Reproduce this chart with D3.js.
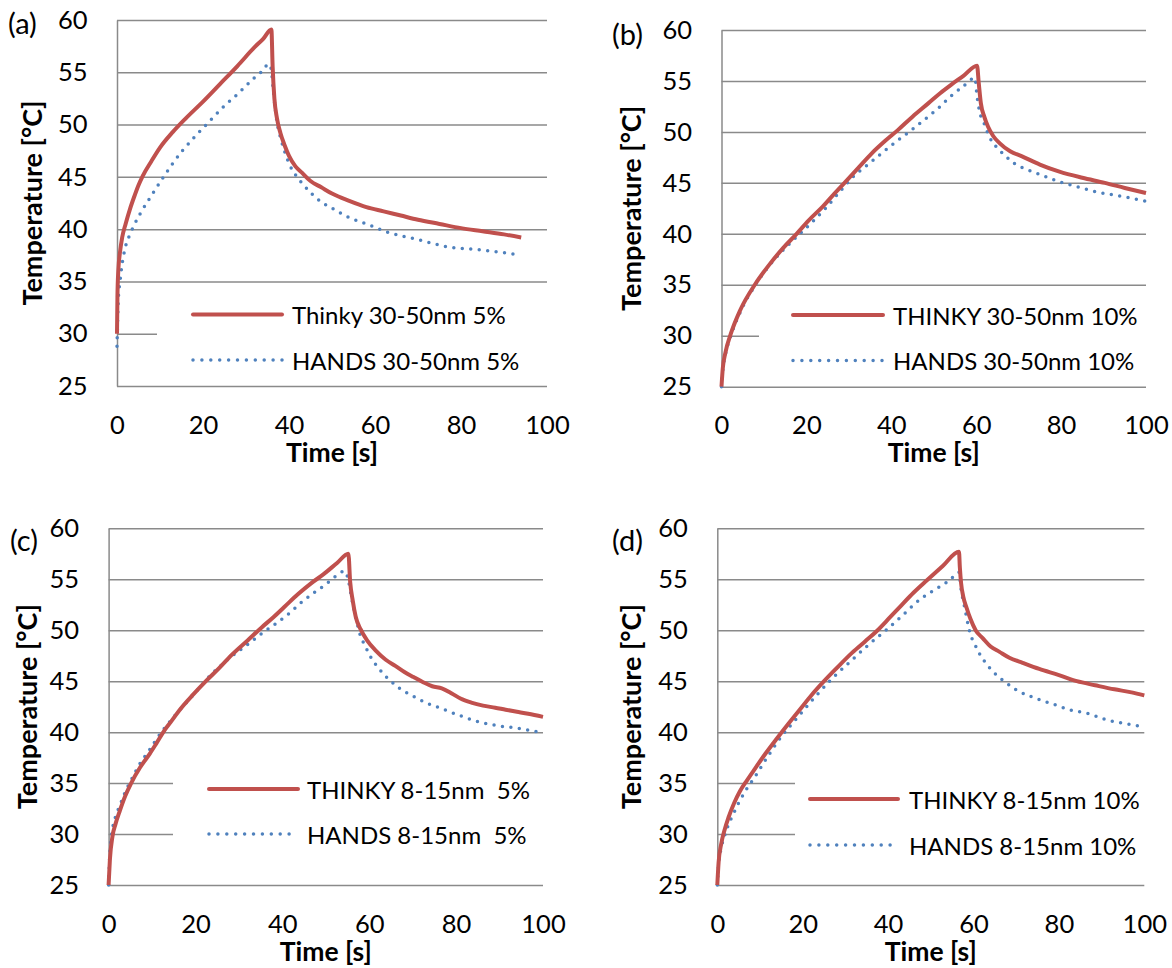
<!DOCTYPE html>
<html>
<head>
<meta charset="utf-8">
<script src="https://cdn.jsdelivr.net/npm/d3@7"></script>
<style>
  body { margin: 0; background: #fff; }
  text { font-family: Lato, "Open Sans", sans-serif; fill: #000; }
</style>
</head>
<body>
<script>
// axis ticks shared by all four panels
const xTicks = [0, 20, 40, 60, 80, 100]
const yTicks = [25, 30, 35, 40, 45, 50, 55, 60]

// (a) 30-50nm 5%
const timeA1 = [0, 0.1, 0.3, 0.7, 1.2, 2, 3, 4, 5, 6, 8, 10, 13, 16, 20, 24, 28, 32, 34, 35.9, 36.2, 36.6, 37.2, 38, 39, 40, 41.5, 43, 45, 47.5, 50, 54, 58, 62, 66, 70, 75, 80, 85, 90, 94]
const tempA1 = [30, 33.5, 36, 37.8, 39.2, 40.5, 41.9, 43.1, 44.2, 45.1, 46.5, 47.8, 49.3, 50.6, 52.2, 53.9, 55.6, 57.4, 58.2, 59.1, 55.5, 52.5, 50.6, 49.2, 48.0, 47.0, 46.0, 45.4, 44.6, 44.0, 43.4, 42.7, 42.1, 41.7, 41.3, 40.9, 40.5, 40.1, 39.8, 39.5, 39.2]
const timeA2 = [0, 0.3, 0.7, 1.1, 1.9, 3, 4, 6, 8, 11, 15, 18, 21, 25, 28, 32, 34, 35.2, 35.8, 36.3, 36.8, 37.3, 38, 39, 40.2, 41.5, 43, 45, 47.5, 50, 54, 58, 63, 70, 77, 85, 94]
const tempA2 = [28.8, 33.2, 35.0, 36.4, 38.2, 39.5, 40.4, 41.9, 43.2, 45.1, 47.4, 48.8, 50.1, 51.8, 52.9, 54.5, 55.2, 55.8, 55.4, 53.5, 51.5, 50.0, 48.8, 47.4, 46.1, 45.2, 44.4, 43.5, 42.6, 42.0, 41.1, 40.5, 39.7, 39.0, 38.3, 38.0, 37.5]

// (b) 30-50nm 10%
const timeB1 = [0, 0.3, 0.9, 2.2, 4.4, 8, 11.5, 14.5, 17.7, 20.5, 23.9, 26.5, 29.2, 32.5, 35.4, 38.5, 41.6, 45, 48.7, 51.5, 54, 57, 60.2, 60.6, 61.1, 61.9, 62.8, 64, 65.5, 68, 70.8, 75, 79.6, 85, 90.3, 95, 100]
const tempB1 = [25, 26.8, 28.3, 30.2, 32.5, 35.1, 37.1, 38.6, 40.0, 41.3, 42.7, 43.9, 45.1, 46.6, 47.9, 49.1, 50.2, 51.5, 52.8, 53.8, 54.6, 55.5, 56.5, 54.8, 52.8, 51.5, 50.5, 49.6, 48.9, 48.1, 47.6, 46.8, 46.1, 45.5, 45.0, 44.5, 44.0]
const timeB2 = [0, 0.3, 0.9, 2.2, 4.4, 8, 11.5, 14.5, 17.7, 21, 24.5, 28, 31, 34.5, 38, 41, 44.2, 47.5, 51, 54, 57, 59.7, 60.2, 60.8, 61.9, 63, 64.6, 66.5, 69, 72, 75.2, 79.6, 84, 88.5, 94, 100]
const tempB2 = [25, 26.6, 28.1, 30.0, 32.3, 35.0, 37.0, 38.4, 39.7, 41.0, 42.5, 44.2, 45.6, 46.8, 48.0, 49.0, 50.0, 51.1, 52.3, 53.5, 54.5, 55.3, 53.5, 52.0, 50.8, 49.6, 48.6, 47.8, 46.9, 46.3, 45.8, 45.1, 44.6, 44.1, 43.7, 43.2]

// (c) 8-15nm 5%
const timeC1 = [0, 0.3, 0.9, 1.6, 2.6, 3.8, 5.2, 7.2, 9.5, 11, 12.9, 14.5, 16.4, 19.5, 22.4, 25.5, 28.4, 32, 35.3, 38, 40.5, 43.5, 46.6, 49.5, 52.6, 55.2, 55.6, 56.2, 56.9, 58, 59.5, 61.5, 63.8, 66, 68.1, 70.2, 72.4, 74.5, 76.7, 79, 81, 83.5, 86.2, 89, 91.4, 94, 96.6, 100]
const tempC1 = [25, 27.5, 29.8, 31.0, 32.3, 33.7, 35.0, 36.5, 37.9, 38.9, 40.2, 41.1, 42.2, 43.7, 45.0, 46.3, 47.6, 49.0, 50.3, 51.3, 52.3, 53.5, 54.6, 55.5, 56.6, 57.5, 54.8, 52.9, 51.3, 50.1, 49.0, 48.0, 47.1, 46.5, 45.9, 45.4, 44.9, 44.5, 44.3, 43.8, 43.3, 42.9, 42.6, 42.4, 42.2, 42.0, 41.8, 41.5]
const timeC2 = [0, 0.3, 0.9, 1.6, 2.6, 3.8, 5.2, 7.2, 9.5, 11, 12.9, 15, 17.5, 20, 22.4, 25.5, 28.5, 32, 35.3, 39, 42, 44, 47, 50, 52.6, 54.3, 55.2, 55.8, 56.5, 57.2, 57.8, 59, 60.3, 62.5, 64.7, 67, 69.8, 73, 76.7, 81, 85.3, 90, 94, 100]
const tempC2 = [25, 28.2, 30.5, 31.7, 32.8, 34.1, 35.3, 36.9, 38.3, 39.3, 40.4, 41.5, 42.7, 43.9, 45.1, 46.4, 47.5, 48.6, 49.7, 50.8, 51.8, 52.6, 53.6, 54.5, 55.4, 55.8, 54.9, 53.5, 52.0, 50.7, 49.7, 48.5, 47.4, 46.1, 45.1, 44.3, 43.6, 42.9, 42.3, 41.6, 41.0, 40.6, 40.4, 39.9]

// (d) 8-15nm 10%
const timeD1 = [0, 0.3, 0.9, 1.7, 2.6, 3.9, 5.3, 7, 8.8, 11.3, 14, 16.6, 19.3, 22, 25, 28, 31.6, 34.6, 37.3, 40.3, 43, 46, 49.1, 52.8, 56.6, 56.8, 57.1, 57.6, 58.3, 59.3, 60.5, 62.2, 64, 66, 68.4, 71.5, 75.4, 80, 84.2, 88.5, 93, 97, 100]
const tempD1 = [25, 27.2, 29.0, 30.4, 31.6, 33.0, 34.2, 35.3, 36.4, 37.9, 39.4, 40.8, 42.2, 43.6, 45.0, 46.3, 47.8, 48.9, 49.9, 51.2, 52.4, 53.7, 54.9, 56.3, 57.7, 56.2, 54.6, 53.3, 52.3, 51.1, 50.0, 49.2, 48.4, 47.9, 47.3, 46.8, 46.2, 45.6, 45.0, 44.6, 44.2, 43.9, 43.6]
const timeD2 = [0, 0.3, 0.9, 1.75, 2.6, 3.9, 5.3, 7, 8.8, 11.5, 14.9, 18.5, 22.8, 27, 31.6, 35.5, 39.5, 43.5, 47.4, 51, 54.4, 56.6, 57.0, 57.4, 57.9, 58.5, 59.2, 60.2, 61.4, 63, 64.9, 67.5, 70.2, 72.8, 75.4, 79, 82.5, 87, 91.2, 96, 100]
const tempD2 = [25, 27.0, 28.6, 29.9, 30.9, 32.1, 33.3, 34.5, 35.6, 37.4, 39.5, 41.3, 43.4, 45.3, 47.1, 48.6, 50.0, 51.5, 53.0, 54.0, 54.9, 55.7, 54.3, 53.3, 52.3, 51.0, 49.7, 48.7, 47.7, 46.7, 45.8, 44.9, 44.1, 43.6, 43.2, 42.7, 42.2, 41.8, 41.2, 40.8, 40.5]

const letters = ['(a)', '(b)', '(c)', '(d)']
const namesThinky = ['Thinky 30-50nm 5%', 'THINKY 30-50nm 10%', 'THINKY 8-15nm  5%', 'THINKY 8-15nm 10%']
const namesHands = ['HANDS 30-50nm 5%', 'HANDS 30-50nm 10%', 'HANDS 8-15nm  5%', 'HANDS 8-15nm 10%']

const RED = '#C0504D'
const BLUE = '#4F81BD'
const GRID = '#8a8a8a'

// layout of each panel (pixel boxes), not data
const panels = [
    {l: 117, r: 547, t: 20, b: 386, ylabX: 42, letX: 8, letY: 34,
     leg: {x1: 193, x2: 282, y1: 314.5, y2: 360, tx: 292, box: [157, 291, 395, 87]},
     s1: [timeA1, tempA1], s2: [timeA2, tempA2]},
    {l: 721.5, r: 1146, t: 30, b: 386.7, ylabX: 641, letX: 612, letY: 45,
     leg: {x1: 793, x2: 883, y1: 315, y2: 360.5, tx: 893, box: [759, 292, 395, 88]},
     s1: [timeB1, tempB1], s2: [timeB2, tempB2]},
    {l: 108.6, r: 543, t: 528.3, b: 885, ylabX: 37, letX: 10, letY: 551,
     leg: {x1: 209, x2: 298, y1: 789, y2: 834, tx: 307, box: [173, 742, 375, 134]},
     s1: [timeC1, tempC1], s2: [timeC2, tempC2]},
    {l: 717.3, r: 1144.3, t: 528.3, b: 885, ylabX: 641, letX: 612, letY: 551,
     leg: {x1: 810, x2: 898, y1: 799, y2: 845, tx: 909, box: [795, 742, 355, 134]},
     s1: [timeD1, tempD1], s2: [timeD2, tempD2]}
]

const svg = d3.select('body').append('svg')
    .attr('width', 1172)
    .attr('height', 968)

function drawPanel(p, i) {
    const x = d3.scaleLinear().domain([0, 100]).range([p.l, p.r])
    const y = d3.scaleLinear().domain([25, 60]).range([p.b, p.t])
    const g = svg.append('g')

    // gridlines + left axis line
    const ya = g.append('g')
        .attr('transform', `translate(${p.l},0)`)
        .call(d3.axisLeft(y).tickValues(yTicks).tickSize(-(p.r - p.l)).tickSizeOuter(0).tickPadding(29.5))
    ya.selectAll('.tick line').attr('stroke', GRID).attr('stroke-width', 1.5)
    ya.select('.domain').attr('stroke', GRID).attr('stroke-width', 1.5)
    ya.selectAll('text').attr('font-size', 25.5).attr('font-family', 'Lato')

    const xa = g.append('g')
        .attr('transform', `translate(0,${p.b})`)
        .call(d3.axisBottom(x).tickValues(xTicks).tickSize(0))
    xa.select('.domain').remove()
    xa.selectAll('text').attr('font-size', 25.5).attr('font-family', 'Lato').attr('y', 47.5).attr('dy', null)

    // axis titles
    g.append('text')
        .attr('x', (p.l + p.r) / 2).attr('y', p.b + 75.5)
        .attr('text-anchor', 'middle')
        .attr('font-size', 26.5).attr('font-weight', 'bold')
        .text('Time [s]')
    g.append('text')
        .attr('transform', `translate(${p.ylabX},${(p.t + p.b) / 2}) rotate(-90)`)
        .attr('text-anchor', 'middle')
        .attr('font-size', 27).attr('font-weight', 'bold')
        .text('Temperature [°C]')

    g.append('text')
        .attr('x', p.letX).attr('y', p.letY)
        .attr('font-size', 29)
        .text(letters[i])

    // legend background hides the gridlines behind it
    g.append('rect')
        .attr('x', p.leg.box[0]).attr('y', p.leg.box[1])
        .attr('width', p.leg.box[2]).attr('height', p.leg.box[3])
        .attr('fill', '#fff')

    const line = d3.line()
        .x(d => x(d[0]))
        .y(d => y(d[1]))
        .curve(d3.curveMonotoneX)

    g.append('path')
        .datum(d3.zip(p.s2[0], p.s2[1]))
        .attr('d', line)
        .attr('fill', 'none')
        .attr('stroke', BLUE)
        .attr('stroke-width', 3.5)
        .attr('stroke-linecap', 'round')
        .attr('stroke-dasharray', '0 8.5')

    g.append('path')
        .datum(d3.zip(p.s1[0], p.s1[1]))
        .attr('d', line)
        .attr('fill', 'none')
        .attr('stroke', RED)
        .attr('stroke-width', 4)
        .attr('stroke-linejoin', 'round')

    // legend
    const lg = g.append('g')
    lg.append('line')
        .attr('x1', p.leg.x1).attr('x2', p.leg.x2)
        .attr('y1', p.leg.y1).attr('y2', p.leg.y1)
        .attr('stroke', RED).attr('stroke-width', 4).attr('stroke-linecap', 'round')
    lg.append('line')
        .attr('x1', p.leg.x1).attr('x2', p.leg.x2)
        .attr('y1', p.leg.y2).attr('y2', p.leg.y2)
        .attr('stroke', BLUE).attr('stroke-width', 3.5)
        .attr('stroke-linecap', 'round').attr('stroke-dasharray', '0 8.9')
    lg.append('text')
        .attr('x', p.leg.tx).attr('y', p.leg.y1 + 9.5)
        .attr('font-size', 24)
        .style('white-space', 'pre')
        .text(namesThinky[i])
    lg.append('text')
        .attr('x', p.leg.tx).attr('y', p.leg.y2 + 9.5)
        .attr('font-size', 24)
        .style('white-space', 'pre')
        .text(namesHands[i])
}

panels.forEach(drawPanel)
</script>
</body>
</html>
